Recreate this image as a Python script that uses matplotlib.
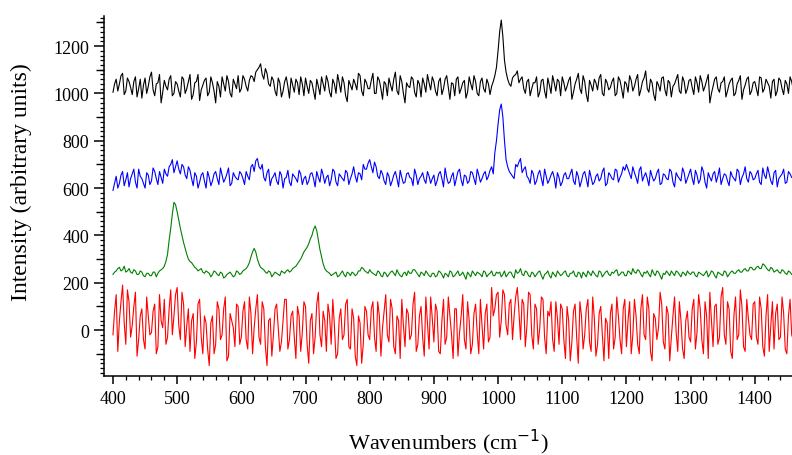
import numpy as np
import matplotlib.pyplot as plt
from matplotlib.ticker import MultipleLocator, FixedLocator

plt.rcParams['font.family'] = ['Liberation Serif', 'DejaVu Serif']

# readings every 5 cm-1 (400 ... 1460) and in between (402.5 ... 1457.5)
wn_main = np.arange(400, 1461, 5)
wn_mid = wn_main[:-1] + 2.5

black = [1005, 1060, 1040, 1085, 1010, 1050, 995, 1070, 1020, 980, 1065, 1030, 1090, 990, 1045, 960, 1055, 1015, 1075, 1000,
         1040, 985, 1060, 1020, 1080, 995, 1050, 970, 1035, 1065, 1005, 1045, 960, 1030, 1070, 1010, 1050, 985, 1040, 1075,
         1020, 1060, 1010, 1075, 1050, 1100, 1125, 1060, 1085, 1030, 1055, 990, 1045, 1010, 1070, 980, 1035, 1060, 995, 1040,
         1065, 1000, 1045, 975, 1030, 1070, 1010, 1050, 985, 1040, 1080, 1005, 1045, 965, 1035, 1060, 1015, 1075, 990, 1045,
         1020, 1085, 1000, 1055, 975, 1040, 1065, 1010, 1090, 995, 1050, 960, 1030, 1070, 1005, 1055, 985, 1040, 1080, 1015,
         1050, 990, 1065, 1020, 1075, 975, 1040, 1060, 1000, 1045, 980, 1070, 1015, 1050, 990, 1065, 1005, 1040, 1030, 1075,
         1180, 1310, 1140, 1060, 1030, 1075, 1095, 1060, 1020, 1050, 990, 1045, 1070, 1005, 1060, 980, 1035, 1075, 1010, 1050,
         1070, 1010, 1055, 975, 1040, 1085, 1000, 1050, 965, 1035, 1060, 1015, 1080, 990, 1045, 1025, 1065, 1000, 1055, 980,
         1040, 1075, 1010, 1060, 990, 1050, 1095, 1005, 1045, 970, 1035, 1065, 1015, 1055, 985, 1040, 1080, 1000, 1050, 1020,
         1060, 995, 1045, 1075, 1010, 1055, 960, 1030, 1070, 1005, 1050, 985, 1040, 1065, 1000, 1055, 975, 1035, 1070, 1010,
         1050, 990, 1065, 1020, 1045, 980, 1060, 1010, 1055, 995, 1040, 1070, 1015]
black_mid = [1040, 1010, 1075, 995, 1065, 1025, 1050, 985, 1060, 1035, 1000, 1070, 1015, 1040, 1080, 1005, 1030, 1060, 990, 1050,
             1010, 1070, 1000, 1050, 975, 1045, 1080, 1015, 1055, 990, 1070, 1010, 1050, 985, 1040, 1075, 1000, 1060, 1020, 1005,
             1075, 1030, 1055, 1070, 1090, 1110, 1080, 1105, 1040, 1070, 1010, 1065, 985, 1050, 1030, 1065, 1005, 1045, 1070, 990,
             1030, 1055, 1010, 1060, 995, 1040, 1075, 1005, 1060, 1000, 1045, 1070, 990, 1055, 1015, 1040, 1085, 1010, 1060, 1020,
             1055, 1000, 1070, 1020, 1050, 990, 1035, 1060, 1010, 1075, 1000, 1045, 1025, 1060, 985, 1040, 1065, 1005, 1045, 1070,
             1010, 1050, 995, 1060, 1025, 1045, 990, 1070, 1020, 1055, 1005, 1040, 1075, 1000, 1050, 1020, 1060, 995, 1050, 1110,
             1260, 1240, 1090, 1040, 1065, 1080, 1045, 1070, 1000, 1060, 1020, 1045, 985, 1055, 1010, 1065, 1000, 1045, 1060, 990,
             1045, 1030, 1070, 1005, 1060, 1020, 1075, 995, 1055, 1010, 1045, 1065, 1000, 1060, 1015, 1050, 990, 1070, 1020, 1050,
             1005, 1055, 1030, 1080, 1015, 1065, 1020, 1060, 995, 1050, 1010, 1070, 990, 1045, 1030, 1060, 1010, 1070, 1000, 1055,
             1025, 1070, 1005, 1050, 1030, 1080, 1000, 1060, 1020, 1045, 1070, 1010, 1055, 990, 1040, 1075, 1015, 1060, 995, 1045,
             1020, 1070, 1005, 1060, 1030, 1050, 990, 1065, 1020, 1055, 1000, 1050]

blue = [590, 650, 620, 670, 635, 605, 660, 625, 680, 640, 600, 655, 630, 670, 615, 645, 680, 650, 700, 665,
        715, 660, 690, 640, 675, 610, 650, 625, 665, 600, 645, 630, 670, 615, 655, 640, 685, 620, 650, 635,
        660, 615, 650, 690, 670, 725, 680, 645, 665, 610, 650, 630, 670, 600, 645, 625, 660, 640, 675, 615,
        650, 630, 665, 605, 645, 680, 620, 655, 635, 670, 610, 650, 630, 665, 640, 690, 625, 660, 700, 680,
        720, 665, 690, 640, 660, 615, 650, 630, 670, 605, 645, 625, 665, 640, 680, 615, 650, 635, 670, 620,
        655, 630, 670, 605, 645, 625, 665, 640, 680, 610, 650, 630, 665, 615, 655, 640, 670, 650, 690, 750,
        870, 955, 800, 690, 660, 640, 690, 725, 680, 650, 620, 660, 630, 675, 610, 650, 635, 670, 600, 645,
        625, 665, 640, 680, 615, 650, 630, 670, 605, 645, 625, 660, 640, 685, 620, 655, 635, 675, 645, 690,
        700, 660, 690, 645, 675, 630, 665, 610, 650, 640, 680, 620, 655, 635, 670, 605, 650, 630, 665, 640,
        680, 615, 655, 635, 670, 600, 645, 660, 625, 685, 640, 655, 610, 650, 630, 670, 645, 690, 625, 660,
        640, 675, 615, 655, 690, 630, 665, 605, 650, 680, 625, 660, 640]
blue_mid = [620, 600, 655, 610, 665, 640, 680, 600, 650, 620, 665, 615, 685, 640, 670, 620, 660, 690, 720, 690,
            680, 700, 655, 690, 640, 665, 600, 655, 630, 670, 610, 660, 640, 685, 625, 660, 610, 665, 640, 670,
            640, 670, 635, 700, 715, 690, 700, 630, 680, 640, 665, 615, 655, 640, 675, 610, 650, 625, 660, 640,
            615, 660, 640, 670, 625, 655, 645, 610, 680, 625, 660, 640, 675, 615, 660, 650, 665, 635, 680, 705,
            690, 710, 650, 675, 630, 665, 610, 655, 640, 675, 620, 660, 645, 610, 655, 640, 665, 620, 650, 640,
            610, 660, 640, 685, 620, 650, 610, 670, 635, 655, 620, 670, 640, 680, 625, 660, 635, 675, 660, 800,
            930, 900, 720, 670, 650, 700, 710, 665, 690, 640, 675, 615, 660, 640, 680, 620, 655, 645, 665, 610,
            655, 640, 660, 630, 670, 605, 660, 640, 675, 615, 650, 630, 670, 610, 665, 640, 680, 625, 660, 675,
            680, 640, 665, 620, 690, 650, 640, 675, 630, 665, 615, 660, 640, 680, 625, 665, 640, 685, 620, 660,
            640, 675, 620, 690, 625, 665, 630, 670, 650, 615, 660, 630, 670, 640, 680, 615, 660, 640, 670, 635,
            660, 625, 685, 640, 660, 615, 675, 640, 660, 620, 670, 645]

green = [235, 250, 265, 255, 245, 260, 240, 250, 235, 245, 225, 240, 230, 245, 240, 255, 270, 320, 430, 540,
         500, 430, 370, 320, 290, 275, 260, 255, 245, 250, 240, 235, 245, 230, 240, 225, 240, 235, 230, 245,
         240, 255, 270, 310, 345, 300, 265, 255, 240, 245, 235, 240, 230, 245, 250, 245, 260, 270, 290, 315,
         340, 365, 400, 440, 380, 310, 260, 245, 230, 240, 225, 240, 235, 245, 230, 240, 235, 250, 260, 245,
         255, 240, 230, 245, 225, 240, 235, 250, 230, 240, 225, 245, 250, 240, 255, 235, 245, 230, 240, 225,
         240, 230, 245, 220, 235, 250, 225, 240, 230, 245, 215, 235, 250, 230, 240, 225, 245, 235, 250, 230,
         240, 225, 250, 235, 245, 220, 240, 260, 230, 245, 225, 240, 235, 250, 215, 240, 230, 245, 225, 240,
         235, 250, 225, 240, 230, 245, 220, 235, 250, 230, 240, 225, 245, 235, 250, 230, 240, 255, 235, 245,
         230, 245, 260, 240, 250, 225, 240, 235, 255, 230, 245, 215, 235, 240, 250, 230, 245, 225, 240, 250,
         235, 245, 225, 240, 230, 250, 235, 245, 220, 240, 230, 245, 235, 250, 240, 255, 245, 260, 250, 265,
         255, 270, 260, 275, 255, 265, 245, 255, 240, 250, 235, 245, 240]
green_mid = [245, 260, 250, 270, 250, 245, 255, 235, 250, 230, 240, 230, 245, 225, 250, 260, 290, 380, 490, 530,
             465, 400, 345, 300, 285, 265, 250, 260, 240, 245, 225, 250, 235, 245, 220, 235, 245, 225, 250, 235,
             250, 260, 285, 330, 330, 280, 260, 245, 250, 225, 245, 235, 250, 240, 255, 250, 265, 280, 300, 330,
             350, 385, 425, 420, 340, 280, 250, 240, 235, 245, 230, 250, 225, 240, 245, 230, 250, 265, 250, 240,
             245, 235, 250, 230, 245, 225, 245, 240, 255, 230, 240, 230, 240, 255, 245, 225, 240, 250, 230, 240,
             225, 250, 235, 240, 225, 245, 230, 250, 235, 230, 245, 225, 240, 245, 235, 250, 225, 240, 230, 245,
             245, 235, 225, 245, 230, 255, 245, 235, 250, 230, 245, 225, 245, 230, 235, 250, 220, 235, 250, 230,
             245, 230, 240, 250, 225, 240, 245, 225, 240, 250, 230, 250, 225, 245, 235, 245, 250, 230, 245, 230,
             250, 235, 245, 255, 235, 245, 250, 225, 240, 250, 230, 240, 250, 230, 240, 250, 235, 245, 230, 240,
             245, 230, 245, 235, 240, 225, 250, 230, 245, 235, 250, 225, 245, 240, 250, 245, 255, 250, 265, 255,
             265, 260, 280, 265, 250, 260, 250, 245, 255, 240, 250, 235]

red = [-20, 150, 40, 190, -60, 120, 20, 160, -40, 90, -80, 60, -10, 110, -70, 40, 130, -30, 170, 60,
       180, -40, 110, 20, -90, 70, -50, 130, -100, 30, -150, 60, -60, 90, -20, 140, -110, 40, -70, 100,
       -30, 120, -80, 70, 10, 150, -60, 90, -150, 50, -20, 110, -90, 40, 130, -40, 80, -120, 60, -10,
       100, -140, 70, -30, 160, -70, 40, 110, -60, 20, -100, 90, -20, 130, -80, 50, -150, 30, -60, 80,
       -40, 120, -90, 60, 10, 150, -50, 90, -100, 40, 130, -70, 70, -20, 160, -60, 100, -110, 30, 140,
       -50, 80, -100, 130, -30, 60, -120, 90, -10, 150, -80, 40, -60, 110, -100, 20, 70, -50, 180, 90,
       160, 40, 150, -20, 130, 60, 180, -40, 110, 20, 150, -80, 90, 10, 130, -100, 60, -40, 120, -60,
       90, -120, 40, -50, 110, -140, 60, -20, 130, -90, 50, -60, 100, -130, 30, 70, -80, 140, -40, 90,
       -70, 120, -20, 60, -100, 150, -40, 90, -130, 50, 10, 110, -80, 70, -30, 140, -90, 40, -120, 80,
       -50, 130, -10, 90, -100, 60, 160, -70, 110, -30, 180, -60, 90, -120, 140, -20, 100, -90, 50, -40,
       120, -60, 90, -110, 150, 20, -80, 110, -30, 70, -100, 130, -40]
red_mid = [80, -90, 120, 30, 170, -30, 100, -110, 60, -40, 140, -20, 80, -100, 150, 10, -60, 90, -20, 150,
           20, 160, -70, 90, 40, -120, 110, -30, 60, -80, 30, -100, 120, -40, 90, -130, 70, 10, 110, -60,
           80, -40, 140, -100, 90, -30, 120, -70, 40, -110, 90, 10, -50, 130, -80, 60, -30, 100, -90, 120,
           -60, 40, -100, 110, -20, 80, -90, 60, 130, -120, 50, -40, 110, -70, 90, -110, 60, -140, 100, -20,
           90, -30, 120, -110, 80, -20, 130, -70, 60, -120, 20, 90, -40, 110, -90, 60, -30, 140, -80, 50,
           110, -90, 40, -60, 140, -20, 90, -110, 60, -40, 120, -100, 70, -10, 130, -80, 110, -30, 60, 150,
           -30, 170, 20, 110, -40, 140, 80, 130, -70, 160, -20, 110, -60, 140, -30, 80, 120, -90, 50, 110,
           -40, 100, -130, 80, -30, 120, -80, 90, -50, 140, -110, 70, -20, 50, -120, 110, -30, 60, -100, 130,
           40, -100, 130, -60, 90, -20, 140, -90, 70, -40, 160, -50, 100, -130, 60, -10, 120, -80, 40, -30,
           90, -80, 150, -40, 120, -120, 40, 100, -60, 140, -20, 120, -90, 60, -40, 170, -70, 130, -20, 110,
           -30, 140, -70, 60, -90, 120, 70, -40, 140, -80, 60, -20]


def merge(main, mid):
    # put the in-between readings back in wavenumber order
    x = np.concatenate([wn_main, wn_mid])
    y = np.concatenate([np.asarray(main, float), np.asarray(mid, float)])
    order = np.argsort(x, kind='stable')
    return x[order], y[order]


fig = plt.figure(figsize=(7.92, 4.56), dpi=100)
ax = fig.add_axes([0.1313, 0.1732, 0.8687, 0.7895])

for main, mid, col in [(black, black_mid, 'black'), (blue, blue_mid, '#0000ff'),
                       (green, green_mid, '#008000'), (red, red_mid, '#ff0000')]:
    x, y = merge(main, mid)
    ax.plot(x, y, color=col, lw=0.8)

ax.set_xlim(386, 1458)
ax.set_ylim(-194, 1327)

ax.spines['top'].set_visible(False)
ax.spines['right'].set_visible(False)
ax.spines['left'].set_linewidth(1.1)
ax.spines['bottom'].set_linewidth(1.1)

ax.xaxis.set_major_locator(FixedLocator(np.arange(400, 1401, 100)))
ax.xaxis.set_minor_locator(MultipleLocator(20))
ax.yaxis.set_major_locator(FixedLocator(np.arange(0, 1201, 200)))
ax.yaxis.set_minor_locator(MultipleLocator(20))
ax.tick_params(axis='x', which='major', direction='out', length=6, width=1.1, labelsize=13, pad=4)
ax.tick_params(axis='y', which='major', direction='out', length=7.5, width=1.1, labelsize=13, pad=3)
ax.tick_params(which='minor', direction='out', length=3, width=0.9)

# medium ticks on the odd hundreds
sec = ax.secondary_yaxis('left')
sec.set_yticks(np.arange(-100, 1301, 200))
sec.tick_params(direction='out', length=5.5, width=1.0, labelleft=False)
sec.spines['left'].set_visible(False)

ax.set_xlabel('Wavenumbers (cm$^{-1}$)', fontsize=16, labelpad=14)
ax.set_ylabel('Intensity (arbitrary units)', fontsize=17)
ax.yaxis.set_label_coords(-0.104, 0.542)

fig.savefig('out.png', dpi=100)
